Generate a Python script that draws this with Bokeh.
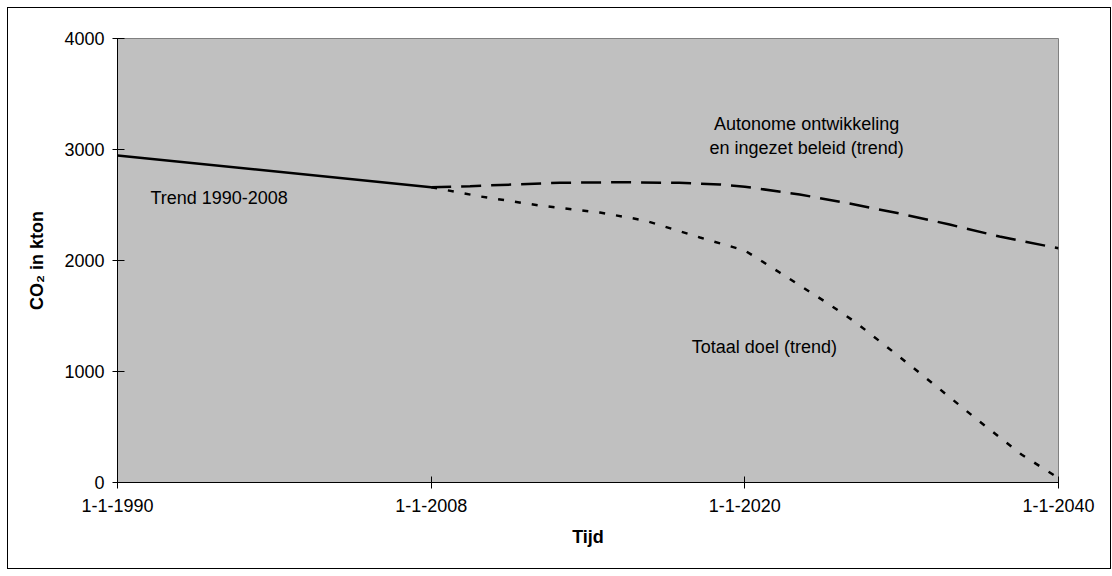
from bokeh.plotting import figure
from bokeh.models import Range1d, FixedTicker, Label
from bokeh.embed import file_html
from bokeh.resources import INLINE

# Category positions (evenly spaced axis) and their labels
tick_pos = [0, 1, 2, 3]
tick_labels = ["1-1-1990", "1-1-2008", "1-1-2020", "1-1-2040"]
y_ticks = [0, 1000, 2000, 3000, 4000]

# Trend 1990-2008 (solid)
trend_x = [0, 1]
trend_y = [2946, 2660]

# Autonome ontwikkeling en ingezet beleid (trend) (dashed)
auto_x = [1.0, 1.124, 1.22, 1.41, 1.60, 1.79, 1.92, 2.0, 2.175, 2.334, 2.494, 2.653, 2.812, 3.0]
auto_y = [2660, 2670, 2680, 2700, 2705, 2700, 2685, 2665, 2595, 2513, 2423, 2324, 2216, 2110]

# Totaal doel (trend) (dotted)
doel_x = [1.0, 1.156, 1.347, 1.538, 1.682, 1.857, 2.0, 2.111, 2.255, 2.350, 2.484, 2.615, 2.748, 2.882, 3.0]
doel_y = [2660, 2577, 2495, 2432, 2360, 2207, 2090, 1892, 1631, 1450, 1153, 856, 550, 252, 40]

FONT = "Liberation Sans"

p = figure(width=1102, height=560, output_backend="svg", toolbar_location=None,
           x_range=Range1d(0, 3), y_range=Range1d(0, 4000),
           min_border_left=109, min_border_right=52, min_border_top=30, min_border_bottom=86,
           styles={"margin-left": "8px", "margin-top": "8px",
                   "outline": "1px solid black", "outline-offset": "0px"})
p.background_fill_color = "#C0C0C0"
p.border_fill_color = "white"
p.outline_line_color = "#808080"
p.outline_line_width = 1
p.xgrid.visible = False
p.ygrid.visible = False

p.xaxis.ticker = FixedTicker(ticks=tick_pos)
p.xaxis.major_label_overrides = {t: l for t, l in zip(tick_pos, tick_labels)}
p.yaxis.ticker = FixedTicker(ticks=y_ticks)

for ax in (p.xaxis, p.yaxis):
    ax.minor_tick_line_color = None
    ax.axis_line_color = "black"
    ax.major_tick_line_color = "black"
    ax.major_label_text_font = FONT
    ax.major_label_text_font_size = "18px"
    ax.major_label_text_color = "black"
    ax.axis_label_text_font = FONT
    ax.axis_label_text_font_size = "18px"
    ax.axis_label_text_font_style = "bold"
    ax.axis_label_text_color = "black"

p.xaxis.major_tick_in = 6
p.xaxis.major_tick_out = 6
p.yaxis.major_tick_in = 7
p.yaxis.major_tick_out = 5
p.xaxis.major_label_standoff = 10
p.yaxis.major_label_standoff = 8
p.xaxis.axis_label = "Tijd"
p.yaxis.axis_label = "CO\u2082 in kton"
p.xaxis.axis_label_standoff = 12
p.yaxis.axis_label_standoff = 14

p.line(trend_x, trend_y, line_color="black", line_width=2.5)
p.line(auto_x, auto_y, line_color="black", line_width=2.5, line_dash="20 10")
p.line(doel_x, doel_y, line_color="black", line_width=2.5, line_dash="6 11")

def lab(x, y, text, align="left"):
    p.add_layout(Label(x=x, y=y, text=text, text_font=FONT, text_font_size="18px",
                       text_color="black", text_align=align, text_baseline="middle"))

lab(0.105, 2565, "Trend 1990-2008")
lab(2.197, 3232, "Autonome ontwikkeling", "center")
lab(2.197, 3016, "en ingezet beleid (trend)", "center")
lab(1.831, 1225, "Totaal doel (trend)")

open("out.html", "w").write(file_html(p, INLINE))
